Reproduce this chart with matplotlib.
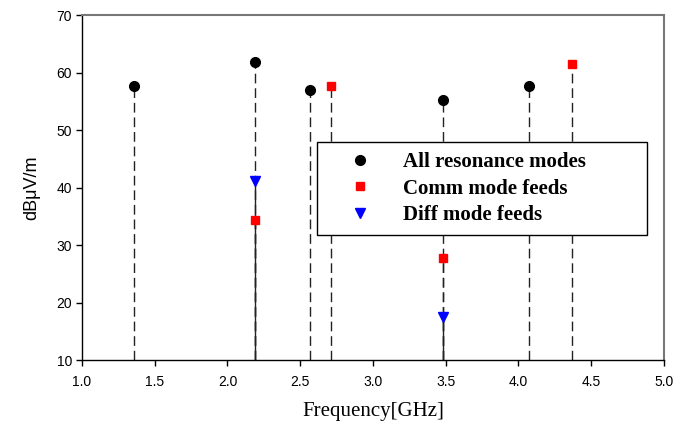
import matplotlib.pyplot as plt
from matplotlib.lines import Line2D

# resonance frequencies [GHz] and radiated field levels [dBuV/m]
all_freq = [1.36, 2.19, 2.57, 3.48, 4.07]
all_level = [57.7, 61.8, 56.9, 55.2, 57.7]

comm_freq = [2.19, 2.71, 3.48, 4.37]
comm_level = [34.3, 57.7, 27.7, 61.5]

diff_freq = [2.19, 3.48]
diff_level = [41.2, 17.4]

x_ticks = [1.0, 1.5, 2.0, 2.5, 3.0, 3.5, 4.0, 4.5, 5.0]
y_ticks = [10, 20, 30, 40, 50, 60, 70]

fig = plt.figure(figsize=(6.73, 4.23), dpi=100)
ax = fig.add_axes([0.1218, 0.1489, 0.8648, 0.8156])

y_base = 10
dash = (0, (7, 3.5))
ax.vlines(all_freq, y_base, all_level, colors='#222222', linestyles=dash, linewidth=1, zorder=1)
ax.vlines(comm_freq, y_base, comm_level, colors='#222222', linestyles=dash, linewidth=1, zorder=1)
ax.vlines(diff_freq, y_base, diff_level, colors='#222222', linestyles='solid', linewidth=1, zorder=1)

ax.plot(all_freq, all_level, 'o', color='black', markersize=7, zorder=3)
ax.plot(comm_freq, comm_level, 's', color='red', markersize=6, zorder=3)
ax.plot(diff_freq, diff_level, 'v', color='blue', markersize=6.5, zorder=3)

ax.set_xlim(1.0, 5.0)
ax.set_ylim(10, 70)
ax.set_xticks(x_ticks)
ax.set_yticks(y_ticks)
ax.set_xticklabels(['%.1f' % t for t in x_ticks], fontsize=10, family='Liberation Sans')
ax.set_yticklabels([str(t) for t in y_ticks], fontsize=10, family='Liberation Sans')
ax.tick_params(direction='out', length=4, width=1, color='black', pad=3)
ax.tick_params(axis='x', pad=7)

for side in ['top', 'right']:
    ax.spines[side].set_color('#777777')
    ax.spines[side].set_linewidth(1.5)
for side in ['left', 'bottom']:
    ax.spines[side].set_color('black')
    ax.spines[side].set_linewidth(1)

ax.set_xlabel('Frequency[GHz]', family='Liberation Serif', fontsize=15, labelpad=9)
ax.set_ylabel('dB\u03bcV/m', family='Liberation Sans', fontsize=13, labelpad=12)

handles = [
    Line2D([], [], linestyle='none', marker='o', color='black', markersize=7),
    Line2D([], [], linestyle='none', marker='s', color='red', markersize=6),
    Line2D([], [], linestyle='none', marker='v', color='blue', markersize=6.5),
]
labels = ['All resonance modes', 'Comm mode feeds', 'Diff mode feeds']
leg = ax.legend(handles, labels, loc='upper left',
                bbox_to_anchor=(0.404, 0.357, 0.566, 0.275), mode='expand',
                prop={'family': 'Liberation Serif', 'weight': 'bold', 'size': 15},
                frameon=True, fancybox=False, borderpad=0.5, labelspacing=0.3,
                handletextpad=0.5, handlelength=3.1, borderaxespad=0)
leg.get_frame().set_edgecolor('black')
leg.get_frame().set_linewidth(1)
leg.get_frame().set_alpha(1)
leg.set_zorder(5)

fig.savefig('out.png', dpi=100)
